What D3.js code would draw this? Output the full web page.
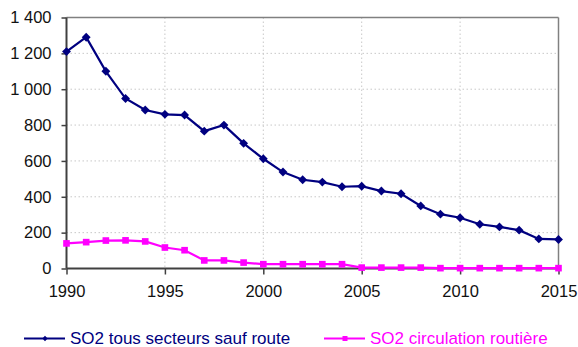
<!DOCTYPE html>
<html>
<head>
<meta charset="utf-8">
<script src="https://cdn.jsdelivr.net/npm/d3@7"></script>
<style>
  html, body { margin: 0; padding: 0; background: #fff; }
  svg { display: block; font-family: "Liberation Sans", Arial, sans-serif; }
</style>
</head>
<body>
<svg id="chart" width="578" height="347"></svg>
<script>
// Émissions de SO2 (tonnes) par année
const years = d3.range(1990, 2016);
const horsRoute = [1210, 1290, 1100, 948, 884, 860, 856, 766, 800, 698, 612, 538, 495, 482, 456, 459,
                   432, 417, 349, 303, 283, 247, 232, 214, 165, 162];
const routier = [140, 147, 156, 157, 151, 117, 102, 45, 45, 33, 24, 24, 24, 24, 24, 5,
                 5, 5, 5, 2, 2, 2, 2, 2, 2, 2];
const yTicks = [0, 200, 400, 600, 800, 1000, 1200, 1400];
const xTicks = [1990, 1995, 2000, 2005, 2010, 2015];
const seriesNames = ["SO2 tous secteurs sauf route", "SO2 circulation routière"];
const seriesColors = ["#000080", "#ff00ff"];

const svg = d3.select("#chart");
const plotL = 66.5, plotR = 558.5, plotT = 17.5, plotB = 268.5;

const x = d3.scaleLinear().domain([1990, 2015]).range([plotL, plotR]);
const y = d3.scaleLinear().domain([0, 1400]).range([plotB, plotT]);

const fmt = v => d3.format(",")(v).replace(/,/g, "\u00a0");

// grille pointillée
const grid = svg.append("g").attr("stroke", "#c8c8c8").attr("stroke-dasharray", "1.5,2.5").attr("stroke-width", 1);
grid.selectAll("line.h").data(yTicks.filter(d => d > 0 && d < 1400)).join("line").attr("class", "h")
  .attr("x1", plotL).attr("x2", plotR).attr("y1", d => y(d)).attr("y2", d => y(d));
grid.selectAll("line.v").data(xTicks.filter(d => d > 1990 && d < 2015)).join("line").attr("class", "v")
  .attr("y1", plotT).attr("y2", plotB).attr("x1", d => x(d)).attr("x2", d => x(d));

// cadre haut et droit
svg.append("line").attr("x1", plotL).attr("x2", plotR).attr("y1", plotT).attr("y2", plotT)
  .attr("stroke", "#808080").attr("stroke-width", 1.5);
svg.append("line").attr("x1", plotR).attr("x2", plotR).attr("y1", plotT).attr("y2", plotB)
  .attr("stroke", "#808080").attr("stroke-width", 1.5);

// axes
const yAxis = svg.append("g").attr("transform", `translate(${plotL},0)`)
  .call(d3.axisLeft(y).tickValues(yTicks).tickFormat(fmt).tickSize(5).tickPadding(10));
const xAxis = svg.append("g").attr("transform", `translate(0,${plotB})`)
  .call(d3.axisBottom(x).tickValues(xTicks).tickFormat(d3.format("d")).tickSize(6).tickPadding(10.5));
[yAxis, xAxis].forEach(a => {
  a.select(".domain").attr("stroke", "#404040").attr("stroke-width", 2);
  a.selectAll(".tick line").attr("stroke", "#404040").attr("stroke-width", 1.5);
  a.selectAll("text").attr("font-size", 16.5).attr("fill", "#111")
    .attr("font-family", "'Liberation Sans', Arial, sans-serif");
});
yAxis.select(".domain").attr("d", `M0,${plotT}V${plotB}`);
xAxis.select(".domain").attr("d", `M${plotL},0H${plotR}`);

const diamond = d3.symbol().type(d3.symbolDiamond2).size(50);
const square = d3.symbol().type(d3.symbolSquare).size(44);

const line = d3.line().x(d => x(d[0])).y(d => y(d[1]));
const series = [horsRoute, routier];
const markers = [diamond, square];

series.forEach((vals, i) => {
  const pts = years.map((yr, j) => [yr, vals[j]]);
  svg.append("path").datum(pts).attr("d", line)
    .attr("fill", "none").attr("stroke", seriesColors[i]).attr("stroke-width", 2.2);
  svg.append("g").selectAll("path").data(pts).join("path")
    .attr("transform", d => `translate(${x(d[0])},${y(d[1])})`)
    .attr("d", markers[i]).attr("fill", seriesColors[i]);
});

// légende
const legendY = 338.5;
const legendX = [24, 324];
seriesNames.forEach((name, i) => {
  const g = svg.append("g").attr("transform", `translate(${legendX[i]},${legendY})`);
  g.append("line").attr("x1", 0).attr("x2", 41).attr("stroke", seriesColors[i]).attr("stroke-width", 2);
  g.append("path").attr("transform", "translate(21,0)")
    .attr("d", i === 0 ? d3.symbol().type(d3.symbolDiamond2).size(18) : d3.symbol().type(d3.symbolSquare).size(25))
    .attr("fill", seriesColors[i]);
  g.append("text").attr("x", 46).attr("y", 5.7).attr("font-size", 17)
    .attr("fill", seriesColors[i]).text(name);
});
</script>
</body>
</html>
